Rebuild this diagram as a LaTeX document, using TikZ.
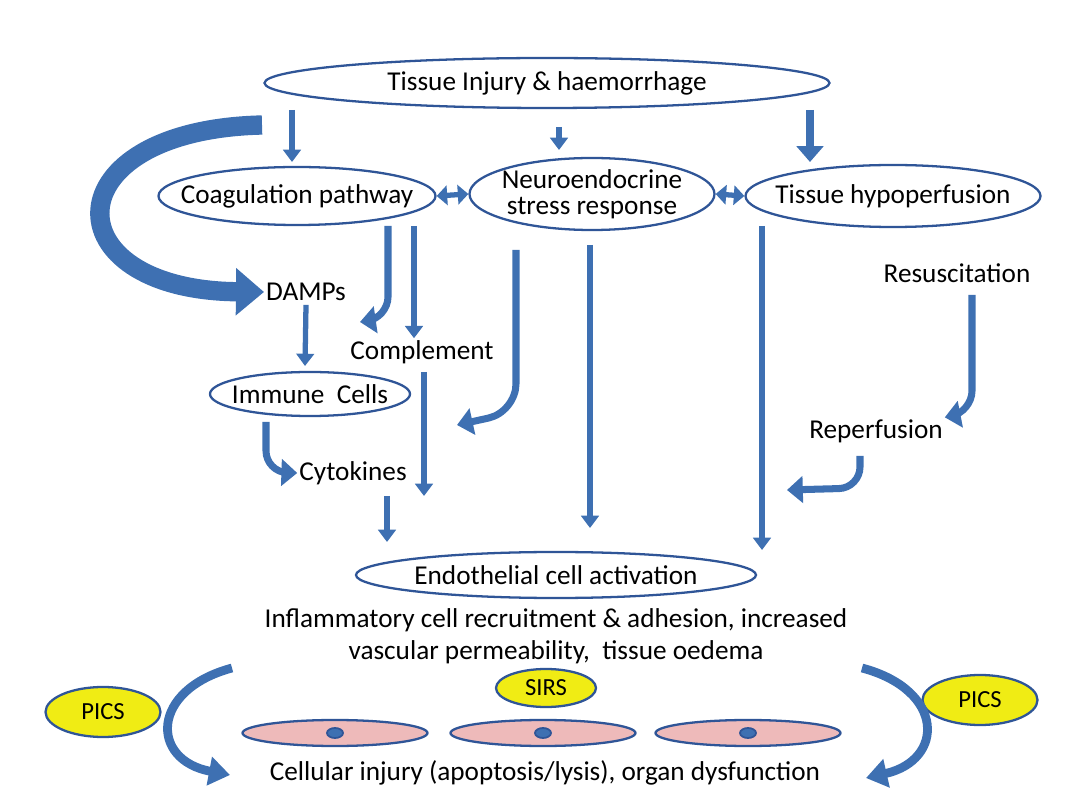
\documentclass[tikz,border=0pt]{standalone}
\usepackage{fontspec}
\setmainfont{Carlito}
\usetikzlibrary{arrows.meta,shapes.geometric}
\definecolor{ab}{RGB}{62,112,178}
\definecolor{ol}{RGB}{47,85,151}
\definecolor{pinkc}{RGB}{238,186,186}
\definecolor{yel}{RGB}{240,236,20}
\begin{document}
\begin{tikzpicture}[x=0.02cm,y=-0.02cm,
  txt/.style={font=\fontsize{15.5}{17}\selectfont,inner sep=1pt},
  ell/.style={ellipse,draw=ol,line width=1.3pt,inner xsep=-25pt,inner ysep=-6pt,fill=white,font=\fontsize{15.5}{17}\selectfont},
  yell/.style={ellipse,draw=ol,line width=1.3pt,fill=yel,inner sep=0pt,font=\fontsize{14}{16}\selectfont},
  cell/.style={ellipse,draw=ol,line width=1.3pt,fill=pinkc,minimum width=185*0.02cm,minimum height=26*0.02cm,inner sep=0pt},
  dot/.style={ellipse,draw=ol,line width=1pt,fill=ab,minimum width=16*0.02cm,minimum height=10*0.02cm,inner sep=0pt},
  arr/.style={draw=ab,line width=3pt,-{Triangle[length=7pt,width=10pt]}},
  farr/.style={draw=ab,line width=5pt,-{Triangle[length=9pt,width=15pt]}},
  darr/.style={draw=ab,line width=3pt,{Triangle[length=6pt,width=11pt]}-{Triangle[length=6pt,width=11pt]}}]
\useasboundingbox (0,0) rectangle (1086,800);
\node[ell,minimum width=565*0.02cm,minimum height=50*0.02cm] (top) at (547,83) {Tissue Injury \& haemorrhage};
\node[ell,minimum width=277*0.02cm,minimum height=58*0.02cm] (coag) at (297,196) {Coagulation pathway};
\node[ell,minimum width=245*0.02cm,minimum height=72*0.02cm,align=center] (neuro) at (592,194) {Neuroendocrine\\[-2pt]stress response};
\node[ell,minimum width=295*0.02cm,minimum height=62*0.02cm] (hypo) at (893,196) {Tissue hypoperfusion};
\draw[darr] (coag.east) -- (neuro.west);
\draw[darr] (neuro.east) -- (hypo.west);
\coordinate (t1) at (292,110); \coordinate (t1e) at (292,162);
\coordinate (t2) at (559,127); \coordinate (t2e) at (559,150);
\coordinate (t3) at (810,110); \coordinate (t3e) at (810,162);
\draw[arr] (t1) -- (t1e);
\draw[arr] (t2) -- (t2e);
\draw[farr] (t3) -- (t3e);
\node[txt] (damps) at (306,292) {DAMPs};
\coordinate (bigs) at (262,125);
\draw[draw=ab,line width=11pt,-{Triangle[length=16pt,width=26pt]}] (bigs) .. controls (50,130) and (50,290) .. (damps.west);
\node[ell,minimum width=200*0.02cm,minimum height=44*0.02cm] (imm) at (310,394) {Immune\ \ Cells};
\draw[arr] (damps.south) ++(0,2) coordinate (ds) -- (305,366);
\node[txt] (comp) at (422,352) {Complement};
\coordinate (c1) at (388,226); \coordinate (c1e) at (360,322);
\draw[farr,line width=4pt,rounded corners=12pt] (c1) -- (388,318) -- (c1e);
\coordinate (c2) at (414,226);
\draw[arr] (c2) -- (comp.north -| c2);
\node[txt] (cyto) at (353,473) {Cytokines};
\draw[farr,line width=4pt,rounded corners=12pt] (266,422) -- (266,472) -- (cyto.west);
\coordinate (cp) at (424,372); \coordinate (cpe) at (424,496);
\draw[arr] (cp) -- (cpe);
\node[ell,minimum width=400*0.02cm,minimum height=46*0.02cm] (endo) at (556,575) {Endothelial cell activation};
\coordinate (cy) at (387,496);
\draw[arr] (cy) -- (387,542);
\coordinate (n1) at (516,250); \coordinate (n1e) at (457,425);
\draw[farr,line width=4pt,rounded corners=16pt] (n1) -- (516,412) -- (n1e);
\coordinate (n2) at (590,245); \coordinate (n2e) at (590,528);
\draw[arr] (n2) -- (n2e);
\coordinate (h1) at (762,226); \coordinate (h1e) at (762,550);
\draw[arr] (h1) -- (h1e);
\node[txt] (resus) at (957,273) {Resuscitation};
\node[txt] (rep) at (876,431) {Reperfusion};
\draw[farr,line width=4pt,rounded corners=12pt] (972,295) -- (972,412) -- (rep.north east);
\draw[farr,line width=4pt,rounded corners=12pt] (860,456) -- (860,488) -- (787,490);
\node[txt,align=center] (infl) at (556,636) {Inflammatory cell recruitment \& adhesion, increased\\[1pt]vascular permeability,\ \ tissue oedema};
\node[yell,minimum width=100*0.02cm,minimum height=38*0.02cm] (sirs) at (546,688) {SIRS};
\node[yell,minimum width=115*0.02cm,minimum height=50*0.02cm] (picsl) at (103,712) {PICS};
\node[yell,minimum width=115*0.02cm,minimum height=50*0.02cm] (picsr) at (980,700) {PICS};
\node[cell] (cA) at (335,733) {}; \node[dot] at (cA) {};
\node[cell] (cB) at (543,733) {}; \node[dot] at (cB) {};
\node[cell] (cC) at (748,733) {}; \node[dot] at (cC) {};
\node[txt] (cellinj) at (545,773) {Cellular injury (apoptosis/lysis), organ dysfunction};
\coordinate (l1) at (232,668); \coordinate (l1e) at (230,775);
\draw[draw=ab,line width=5pt,-{Triangle[length=12pt,width=16pt]}] (l1) .. controls (150,690) and (150,760) .. (l1e);
\coordinate (r1) at (862,668); \coordinate (r1e) at (866,778);
\draw[draw=ab,line width=5pt,-{Triangle[length=12pt,width=16pt]}] (r1) .. controls (945,690) and (945,760) .. (r1e);
\end{tikzpicture}
\end{document}
